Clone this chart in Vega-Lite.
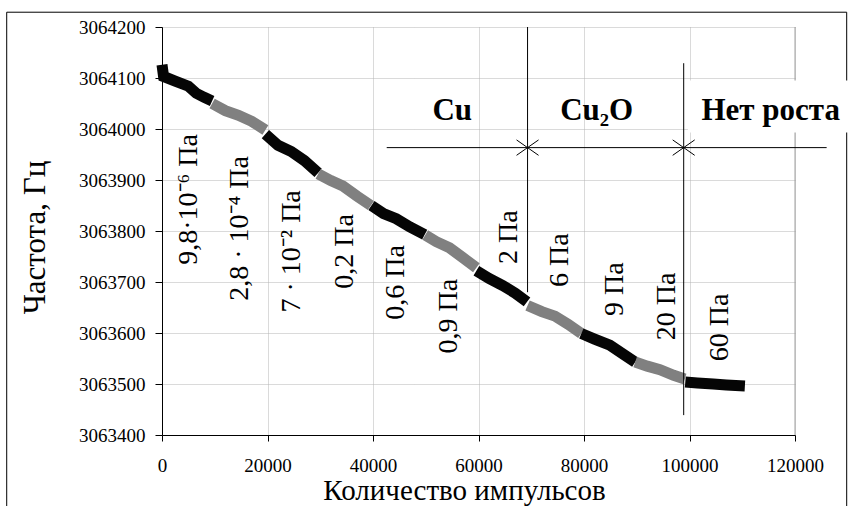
{
  "$schema": "https://vega.github.io/schema/vega-lite/v6.json",
  "width": 633,
  "height": 408,
  "autosize": "none",
  "padding": {"left": 162, "top": 27, "right": 53, "bottom": 71},
  "background": "white",
  "config": {
    "font": "Liberation Serif",
    "view": {"stroke": null},
    "text": {"font": "Liberation Serif"},
    "axis": {
      "labelFont": "Liberation Serif",
      "titleFont": "Liberation Serif",
      "labelColor": "black",
      "titleColor": "black",
      "titleFontWeight": "normal",
      "domainColor": "black",
      "tickColor": "black",
      "grid": true,
      "gridColor": "#b4b4b4",
      "gridDash": [1, 1],
      "gridWidth": 1,
      "labelFontSize": 19,
      "labelOverlap": false,
      "labelFlush": false
    }
  },
  "datasets": {
    "curve": [
      {"seg": 1, "shade": "black", "n": 0, "f": 3064126},
      {"seg": 1, "shade": "black", "n": 300, "f": 3064103},
      {"seg": 1, "shade": "black", "n": 2500, "f": 3064094},
      {"seg": 1, "shade": "black", "n": 5000, "f": 3064084},
      {"seg": 1, "shade": "black", "n": 6500, "f": 3064070},
      {"seg": 1, "shade": "black", "n": 8000, "f": 3064062},
      {"seg": 1, "shade": "black", "n": 9500, "f": 3064055},
      {"seg": 2, "shade": "gray", "n": 9500, "f": 3064050},
      {"seg": 2, "shade": "gray", "n": 12000, "f": 3064036},
      {"seg": 2, "shade": "gray", "n": 14500, "f": 3064027},
      {"seg": 2, "shade": "gray", "n": 17000, "f": 3064015},
      {"seg": 2, "shade": "gray", "n": 19600, "f": 3063998},
      {"seg": 3, "shade": "black", "n": 19600, "f": 3063990},
      {"seg": 3, "shade": "black", "n": 22000, "f": 3063968},
      {"seg": 3, "shade": "black", "n": 24500, "f": 3063956},
      {"seg": 3, "shade": "black", "n": 27000, "f": 3063938},
      {"seg": 3, "shade": "black", "n": 29600, "f": 3063914},
      {"seg": 4, "shade": "gray", "n": 29600, "f": 3063912},
      {"seg": 4, "shade": "gray", "n": 32000, "f": 3063899},
      {"seg": 4, "shade": "gray", "n": 34300, "f": 3063888},
      {"seg": 4, "shade": "gray", "n": 37000, "f": 3063868},
      {"seg": 4, "shade": "gray", "n": 39600, "f": 3063850},
      {"seg": 5, "shade": "black", "n": 39700, "f": 3063850},
      {"seg": 5, "shade": "black", "n": 42000, "f": 3063834},
      {"seg": 5, "shade": "black", "n": 44400, "f": 3063824},
      {"seg": 5, "shade": "black", "n": 47000, "f": 3063808},
      {"seg": 5, "shade": "black", "n": 49800, "f": 3063793},
      {"seg": 6, "shade": "gray", "n": 49900, "f": 3063792},
      {"seg": 6, "shade": "gray", "n": 52000, "f": 3063779},
      {"seg": 6, "shade": "gray", "n": 54500, "f": 3063767},
      {"seg": 6, "shade": "gray", "n": 57000, "f": 3063748},
      {"seg": 6, "shade": "gray", "n": 59600, "f": 3063728},
      {"seg": 7, "shade": "black", "n": 59600, "f": 3063722},
      {"seg": 7, "shade": "black", "n": 62000, "f": 3063707},
      {"seg": 7, "shade": "black", "n": 64600, "f": 3063693},
      {"seg": 7, "shade": "black", "n": 67000, "f": 3063678},
      {"seg": 7, "shade": "black", "n": 69200, "f": 3063661},
      {"seg": 8, "shade": "gray", "n": 69300, "f": 3063654},
      {"seg": 8, "shade": "gray", "n": 72000, "f": 3063642},
      {"seg": 8, "shade": "gray", "n": 74500, "f": 3063633},
      {"seg": 8, "shade": "gray", "n": 77000, "f": 3063617},
      {"seg": 8, "shade": "gray", "n": 79500, "f": 3063599},
      {"seg": 9, "shade": "black", "n": 79500, "f": 3063599},
      {"seg": 9, "shade": "black", "n": 82000, "f": 3063588},
      {"seg": 9, "shade": "black", "n": 84900, "f": 3063576},
      {"seg": 9, "shade": "black", "n": 87500, "f": 3063558},
      {"seg": 9, "shade": "black", "n": 89700, "f": 3063543},
      {"seg": 10, "shade": "gray", "n": 89700, "f": 3063543},
      {"seg": 10, "shade": "gray", "n": 92000, "f": 3063535},
      {"seg": 10, "shade": "gray", "n": 94400, "f": 3063528},
      {"seg": 10, "shade": "gray", "n": 97000, "f": 3063517},
      {"seg": 10, "shade": "gray", "n": 99100, "f": 3063510},
      {"seg": 11, "shade": "black", "n": 99200, "f": 3063504},
      {"seg": 11, "shade": "black", "n": 101500, "f": 3063502},
      {"seg": 11, "shade": "black", "n": 104500, "f": 3063500},
      {"seg": 11, "shade": "black", "n": 107000, "f": 3063498},
      {"seg": 11, "shade": "black", "n": 110500, "f": 3063496}
    ],
    "boundaries": [
      {"n": 69300, "f": 3064200, "f2": 3063680},
      {"n": 98900, "f": 3064129, "f2": 3063439}
    ],
    "arrowTips": [
      {"n": 69300, "f": 3063963.5, "dir": "right"},
      {"n": 69300, "f": 3063963.5, "dir": "left"},
      {"n": 98900, "f": 3063963.5, "dir": "right"},
      {"n": 98900, "f": 3063963.5, "dir": "left"}
    ],
    "pressures": [
      {"label": "9,8·10⁻⁶ Па", "n": 5200, "f": 3063862},
      {"label": "2,8 · 10⁻⁴ Па", "n": 14700, "f": 3063805},
      {"label": "7 · 10⁻² Па", "n": 24700, "f": 3063760},
      {"label": "0,2 Па", "n": 34750, "f": 3063760},
      {"label": "0,6 Па", "n": 44400, "f": 3063699},
      {"label": "0,9 Па", "n": 54450, "f": 3063633},
      {"label": "2 Па", "n": 65800, "f": 3063788},
      {"label": "6 Па", "n": 75500, "f": 3063743},
      {"label": "9 Па", "n": 85900, "f": 3063686},
      {"label": "20 Па", "n": 95800, "f": 3063652},
      {"label": "60 Па", "n": 105800, "f": 3063611}
    ],
    "phases": [
      {"label": "Cu", "n": 55030, "f": 3064017},
      {"label": "Cu₂O", "n": 82410, "f": 3064017},
      {"label": "Нет роста", "n": 115390, "f": 3064017}
    ]
  },
  "layer": [
    {
      "description": "outer frame of the figure",
      "data": {"values": [{}]},
      "mark": {"type": "rect", "filled": false, "fill": null, "stroke": "black", "strokeWidth": 1, "clip": false},
      "encoding": {
        "x": {"datum": -29440, "type": "quantitative"},
        "x2": {"datum": 129800},
        "y": {"datum": 3064229, "type": "quantitative"},
        "y2": {"datum": 3063240}
      }
    },
    {
      "data": {"name": "curve"},
      "mark": {"type": "line", "strokeWidth": 11, "strokeCap": "butt", "strokeJoin": "miter"},
      "encoding": {
        "x": {
          "field": "n",
          "type": "quantitative",
          "scale": {"domain": [0, 120000], "nice": false, "zero": false},
          "axis": {
            "title": "Количество импульсов",
            "grid": true,
            "values": [0, 20000, 40000, 60000, 80000, 100000, 120000],
            "format": "d",
            "tickSize": 6,
            "labelPadding": 15,
            "titleFontSize": 29,
            "titleX": 302,
            "titleY": 64,
            "titleAlign": "center",
            "titleBaseline": "alphabetic"
          }
        },
        "y": {
          "field": "f",
          "type": "quantitative",
          "scale": {"domain": [3063400, 3064200], "nice": false, "zero": false},
          "axis": {
            "title": "Частота, Гц",
            "grid": true,
            "values": [3063400, 3063500, 3063600, 3063700, 3063800, 3063900, 3064000, 3064100, 3064200],
            "format": "d",
            "tickSize": 7,
            "labelPadding": 10,
            "titleFontSize": 31,
            "titleX": -127,
            "titleY": 210,
            "titleAngle": 270,
            "titleAlign": "center",
            "titleBaseline": "middle"
          }
        },
        "color": {
          "field": "shade",
          "type": "nominal",
          "scale": {"domain": ["black", "gray"], "range": ["#050505", "#808080"]},
          "legend": null
        },
        "detail": {"field": "seg", "type": "nominal"}
      }
    },
    {
      "description": "right border of the plot area",
      "data": {"values": [{}]},
      "mark": {"type": "rule", "color": "#a0a0a0", "strokeWidth": 1},
      "encoding": {
        "x": {"datum": 120000, "type": "quantitative"},
        "y": {"datum": 3064200, "type": "quantitative"},
        "y2": {"datum": 3063400}
      }
    },
    {
      "description": "white backing behind the no-growth label",
      "data": {"values": [{}]},
      "mark": {"type": "rect", "fill": "white", "strokeWidth": 0, "clip": false},
      "encoding": {
        "x": {"datum": 99700, "type": "quantitative"},
        "x2": {"datum": 131000},
        "y": {"datum": 3064095, "type": "quantitative"},
        "y2": {"datum": 3063993}
      }
    },
    {
      "data": {"name": "boundaries"},
      "mark": {"type": "rule", "color": "black", "strokeWidth": 1},
      "encoding": {
        "x": {"field": "n", "type": "quantitative"},
        "y": {"field": "f", "type": "quantitative"},
        "y2": {"field": "f2"}
      }
    },
    {
      "description": "horizontal dimension line between phases",
      "data": {"values": [{}]},
      "mark": {"type": "rule", "color": "black", "strokeWidth": 1, "clip": false},
      "encoding": {
        "x": {"datum": 42600, "type": "quantitative"},
        "x2": {"datum": 126000},
        "y": {"datum": 3063963.5, "type": "quantitative"}
      }
    },
    {
      "data": {"name": "arrowTips"},
      "mark": {"type": "point", "filled": false, "stroke": "black", "strokeWidth": 1, "size": 484, "opacity": 1},
      "encoding": {
        "x": {"field": "n", "type": "quantitative"},
        "y": {"field": "f", "type": "quantitative"},
        "shape": {
          "field": "dir",
          "type": "nominal",
          "scale": {"domain": ["right", "left"], "range": ["M-1,-0.7L0,0L-1,0.7", "M1,-0.7L0,0L1,0.7"]},
          "legend": null
        }
      }
    },
    {
      "data": {"name": "pressures"},
      "mark": {"type": "text", "font": "Liberation Serif", "angle": 270, "fontSize": 28, "align": "center", "baseline": "middle", "color": "black"},
      "encoding": {
        "x": {"field": "n", "type": "quantitative"},
        "y": {"field": "f", "type": "quantitative"},
        "text": {"field": "label"}
      }
    },
    {
      "data": {"name": "phases"},
      "mark": {"type": "text", "font": "Liberation Serif", "fontSize": 31, "fontWeight": "bold", "align": "center", "baseline": "alphabetic", "color": "black", "clip": false},
      "encoding": {
        "x": {"field": "n", "type": "quantitative"},
        "y": {"field": "f", "type": "quantitative"},
        "text": {"field": "label"}
      }
    }
  ]
}
